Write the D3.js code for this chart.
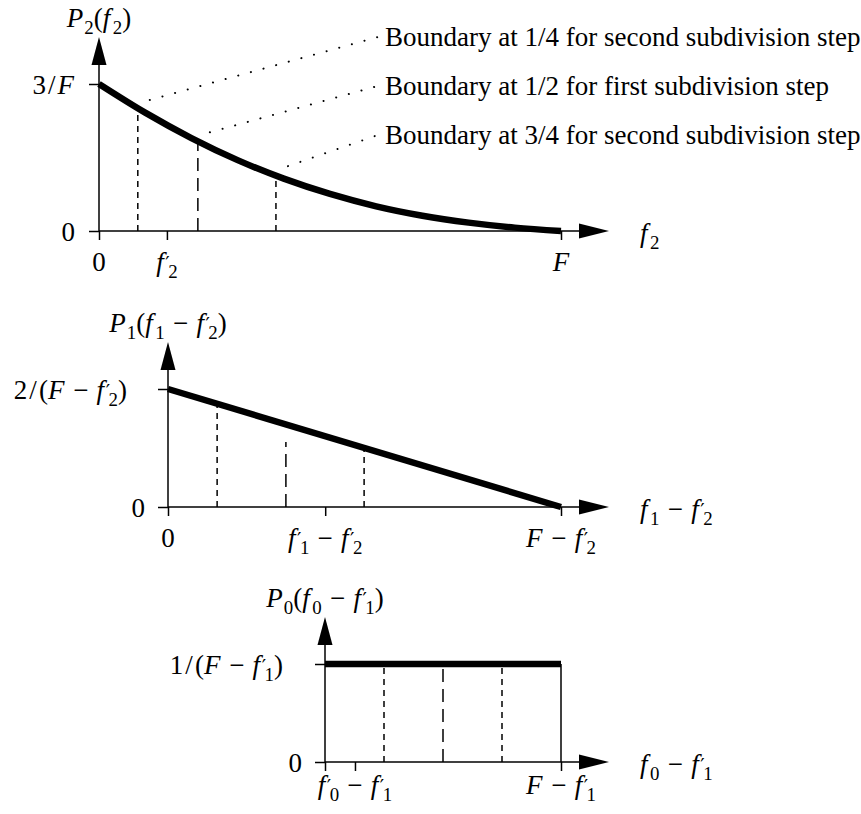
<!DOCTYPE html>
<html>
<head>
<meta charset="utf-8">
<script src="https://cdn.jsdelivr.net/npm/d3@7"></script>
<style>
  html, body { margin: 0; padding: 0; background: #fff; }
  svg { display: block; }
  text { font-family: "Liberation Serif", "Times New Roman", serif; font-size: 27px; fill: #000; }
</style>
</head>
<body>
<svg id="chart" width="861" height="814"></svg>
<script>
// ---------- data ----------
// P2(f2): x as a fraction of F, value as a fraction of 3/F
const p2X = [0, 0.1, 0.2, 0.3, 0.4, 0.5, 0.6, 0.7, 0.8, 0.9, 1];
const p2Y = [1, 0.805, 0.632, 0.482, 0.356, 0.252, 0.168, 0.104, 0.057, 0.023, 0];
// P1(f1 - f2'): x as a fraction of F - f2', value as a fraction of 2/(F - f2')
const p1X = [0, 1];
const p1Y = [1, 0];
// P0(f0 - f1'): x as a fraction of F - f1', value as a fraction of 1/(F - f1')
const p0X = [0, 1];
const p0Y = [1, 1];

// subdivision boundaries (1/4, 1/2, 3/4 of the mass) and the height each dashed line reaches
const p2Bounds = [0.084, 0.214, 0.383];
const p2BoundTops = [0.83, 0.61, 0.38];
const p1Bounds = [0.125, 0.30, 0.499];
const p1BoundTops = [0.875, 0.55, 0.50];
const p0Bounds = [0.25, 0.5, 0.75];
const p0BoundTops = [1, 1, 1];
const boundKinds = ["short", "long", "short"];

// axis ticks and their labels
const p2XTicks = [0, 0.147, 1];
const p2XTickLabels = ["0", "f'_2", "F"];
const p1XTicks = [0, 0.40, 1];
const p1XTickLabels = ["0", "f'_1 − f'_2", "F − f'_2"];
const p0XTicks = [0, 0.127, 1];
const p0XTickLabels = ["", "f'_0 − f'_1", "F − f'_1"];
const yTicks = [0, 1];
const p2YTickLabels = ["0", "3/F"];
const p1YTickLabels = ["0", "2/(F − f'_2)"];
const p0YTickLabels = ["0", "1/(F − f'_1)"];

const p2Titles = ["P_2(f_2)", "f_2"];
const p1Titles = ["P_1(f_1 − f'_2)", "f_1 − f'_2"];
const p0Titles = ["P_0(f_0 − f'_1)", "f_0 − f'_1"];

const boundaryNotes = [
  "Boundary at 1/4 for second subdivision step",
  "Boundary at 1/2 for first subdivision step",
  "Boundary at 3/4 for second subdivision step"
];

// ---------- helpers ----------
const FS = 27;
const svg = d3.select("#chart");

// Small math-label typesetter: letters italic, "_x" subscript, "'" prime, " − " binary minus
function mathLabel(parent, str, x, y, anchor) {
  const t = parent.append("text").attr("x", x).attr("y", y).attr("text-anchor", anchor || "start");
  let cur = 0, pad = 0;
  function piece(txt, o) {
    const ts = t.append("tspan").text(txt);
    const target = o.shift || 0;
    if (target !== cur) { ts.attr("dy", target - cur); cur = target; }
    if (o.italic) ts.attr("font-style", "italic");
    if (o.size) ts.attr("font-size", o.size);
    if (o.family) ts.attr("font-family", o.family);
    const dx = (o.dx || 0) + pad;
    if (dx) ts.attr("dx", dx);
    pad = o.after || 0;
    return ts;
  }
  for (let i = 0; i < str.length; i++) {
    const c = str[i];
    if (c === "_") {
      piece(str[++i], { shift: FS * 0.25, size: FS * 0.7, dx: 0.5 });
    } else if (c === "'") {
      piece("\u2032", { shift: -FS * 0.02, size: FS * 0.72, family: "DejaVu Serif", dx: -0.5, after: -2 });
    } else if (c === "−") {
      piece("−", { dx: 1.5, after: 1.5 });
    } else if (c === "/") {
      piece("/", { dx: 2, after: 2 });
    } else if (/[A-Za-z]/.test(c)) {
      piece(c, { italic: true, after: c === "f" ? 2 : 0.5 });
    } else {
      piece(c, {});
    }
  }
  return t;
}

const dashStyles = { short: "6 5", long: "13 7" };

function panel(cfg) {
  const g = svg.append("g");
  const x = d3.scaleLinear().domain([0, 1]).range([cfg.x0, cfg.x1]);
  const y = d3.scaleLinear().domain([0, 1]).range([cfg.y0, cfg.y1]);

  // tick marks through d3 axes (labels typeset separately)
  const xAxis = g.append("g").attr("transform", `translate(0,${cfg.y0})`)
    .call(d3.axisBottom(x).tickValues(cfg.xTicks).tickSize(9).tickSizeOuter(0).tickFormat(""));
  const yAxis = g.append("g").attr("transform", `translate(${cfg.x0},0)`)
    .call(d3.axisLeft(y).tickValues(yTicks).tickSize(10).tickSizeOuter(0).tickFormat(""));
  [xAxis, yAxis].forEach(a => {
    a.select(".domain").remove();
    a.selectAll(".tick line").attr("stroke", "#000").attr("stroke-width", 1.5);
  });

  // axis lines with arrowheads
  g.append("line").attr("x1", x(0)).attr("y1", y(0)).attr("x2", cfg.xTip - 20).attr("y2", y(0))
    .attr("stroke", "#000").attr("stroke-width", 1.5);
  g.append("line").attr("x1", x(0)).attr("y1", y(0)).attr("x2", x(0)).attr("y2", cfg.yTip + 20)
    .attr("stroke", "#000").attr("stroke-width", 1.5);
  g.append("path")
    .attr("d", `M${cfg.xTip},${y(0)} L${cfg.xTip - 30},${y(0) - 7.5} L${cfg.xTip - 30},${y(0) + 7.5} Z`)
    .attr("fill", "#000");
  g.append("path")
    .attr("d", `M${x(0)},${cfg.yTip} L${x(0) - 7.5},${cfg.yTip + 28} L${x(0) + 7.5},${cfg.yTip + 28} Z`)
    .attr("fill", "#000");

  // dashed subdivision boundaries, drawn upward from the axis
  cfg.bounds.forEach((b, i) => {
    g.append("line")
      .attr("x1", x(b)).attr("y1", y(0)).attr("x2", x(b)).attr("y2", y(cfg.boundTops[i]))
      .attr("stroke", "#000").attr("stroke-width", 1.5)
      .attr("stroke-dasharray", dashStyles[boundKinds[i]]);
  });

  // optional support edge (thin vertical at the right end)
  if (cfg.edge) {
    g.append("line").attr("x1", x(1)).attr("y1", y(0)).attr("x2", x(1)).attr("y2", y(cfg.dataY[cfg.dataY.length - 1]))
      .attr("stroke", "#000").attr("stroke-width", 1.5);
  }

  // density curve
  const pts = cfg.dataX.map((v, i) => [v, cfg.dataY[i]]);
  g.append("path")
    .attr("d", d3.line().x(d => x(d[0])).y(d => y(d[1])).curve(d3.curveMonotoneX)(pts))
    .attr("fill", "none").attr("stroke", "#000").attr("stroke-width", 6.5);

  // labels
  cfg.xTicks.forEach((t, i) => {
    if (cfg.xTickLabels[i]) mathLabel(g, cfg.xTickLabels[i], x(t), y(0) + cfg.xLabelDy, "middle");
  });
  mathLabel(g, cfg.yTickLabels[0], cfg.yZeroRight, y(0) + 10, "end");
  mathLabel(g, cfg.yTickLabels[1], cfg.yTopRight, y(1) + 10, "end");
  mathLabel(g, cfg.titles[0], x(0), cfg.yTip - 10, "middle");
  mathLabel(g, cfg.titles[1], 640, y(0) + 11, "start");

  return { g, x, y };
}

const topPanel = panel({
  x0: 99, x1: 561, y0: 231, y1: 84, xTip: 609, yTip: 37,
  dataX: p2X, dataY: p2Y, bounds: p2Bounds, boundTops: p2BoundTops,
  xTicks: p2XTicks, xTickLabels: p2XTickLabels, yTickLabels: p2YTickLabels, titles: p2Titles,
  xLabelDy: 40, yZeroRight: 75, yTopRight: 74
});
panel({
  x0: 168, x1: 561, y0: 507, y1: 389, xTip: 609, yTip: 342,
  dataX: p1X, dataY: p1Y, bounds: p1Bounds, boundTops: p1BoundTops,
  xTicks: p1XTicks, xTickLabels: p1XTickLabels, yTickLabels: p1YTickLabels, titles: p1Titles,
  xLabelDy: 40, yZeroRight: 145, yTopRight: 127
});
panel({
  x0: 325, x1: 561, y0: 762, y1: 664, xTip: 609, yTip: 617,
  dataX: p0X, dataY: p0Y, bounds: p0Bounds, boundTops: p0BoundTops,
  xTicks: p0XTicks, xTickLabels: p0XTickLabels, yTickLabels: p0YTickLabels, titles: p0Titles,
  xLabelDy: 32, yZeroRight: 302, yTopRight: 283, edge: true
});

// dotted leaders from the top panel's boundaries to their notes
const noteX = 385, noteBase = [46, 95, 144];
boundaryNotes.forEach((txt, i) => {
  const bx = topPanel.x(p2Bounds[i]) + 12, by = topPanel.y(p2BoundTops[i]) - 9;
  topPanel.g.append("line")
    .attr("x1", bx).attr("y1", by).attr("x2", noteX - 7).attr("y2", noteBase[i] - 9)
    .attr("stroke", "#000").attr("stroke-width", 2)
    .attr("stroke-linecap", "round").attr("stroke-dasharray", "0.1 13");
  topPanel.g.append("text").attr("x", noteX).attr("y", noteBase[i]).text(txt);
});
</script>
</body>
</html>
